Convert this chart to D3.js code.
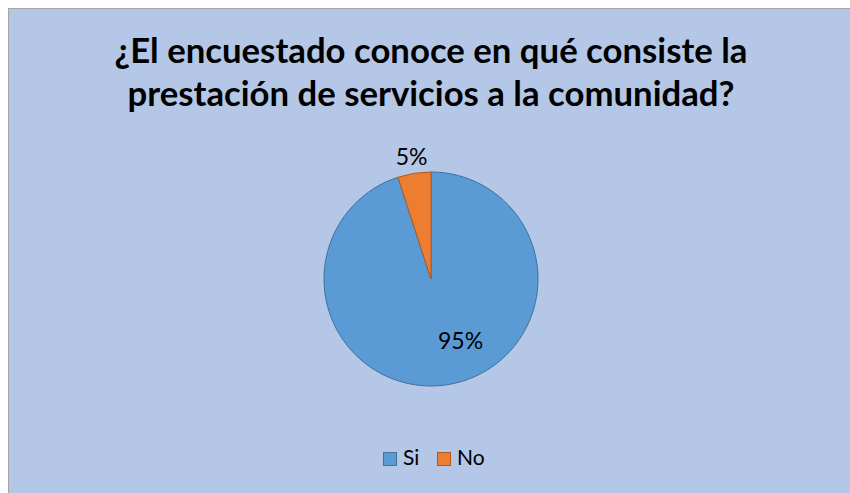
<!DOCTYPE html>
<html>
<head>
<meta charset="utf-8">
<script src="https://cdn.jsdelivr.net/npm/d3@7"></script>
<style>
  body { margin: 0; background: #ffffff; }
  text { font-family: Lato, "Open Sans", sans-serif; fill: #000; }
</style>
</head>
<body>
<div id="chart"></div>
<script>
// Data
var categories = ["Si", "No"];
var values = [95, 5];
var labels = ["95%", "5%"];
var titleLines = ["¿El encuestado conoce en qué consiste la", "prestación de servicios a la comunidad?"];

var svgWidth = 850;
var svgHeight = 493;

var svg = d3.select("#chart")
  .append("svg")
  .attr("width", svgWidth)
  .attr("height", svgHeight);

// chart area background + border
svg.append("rect")
  .attr("x", 8.5)
  .attr("y", 8.5)
  .attr("width", svgWidth)
  .attr("height", svgHeight)
  .attr("fill", "#b4c7e7")
  .attr("stroke", "#a6a6a6")
  .attr("stroke-width", 1);

// title
var titleGroup = svg.append("g");
var titleText = titleGroup.selectAll("text")
  .data(titleLines)
  .enter()
  .append("text")
  .attr("x", 431)
  .attr("y", (d, i) => 63 + i * 43)
  .attr("text-anchor", "middle")
  .attr("font-weight", "bold")
  .attr("font-size", 28)
  .text(d => d);

// scale font so the first line spans roughly the same width as the reference
var w0 = titleText.nodes()[0].getComputedTextLength();
titleText.attr("font-size", 28 * 633 / w0);

// pie
var cx = 431, cy = 279, radius = 107;
var colors = d3.scaleOrdinal().domain(categories).range(["#5b9bd5", "#ed7d31"]);
var strokes = d3.scaleOrdinal().domain(categories).range(["#41719c", "#ae5a21"]);

var pie = d3.pie().sort(null).value(d => d.value);
var arcs = pie(categories.map((c, i) => ({ cat: c, value: values[i], label: labels[i] })));

var arc = d3.arc().innerRadius(0).outerRadius(radius);
var outerLabelArc = d3.arc().innerRadius(radius + 17).outerRadius(radius + 17);
var innerLabelArc = d3.arc().innerRadius(radius * 0.63).outerRadius(radius * 0.63);

var pieGroup = svg.append("g")
  .attr("transform", `translate(${cx}, ${cy})`);

pieGroup.selectAll("path")
  .data(arcs)
  .enter()
  .append("path")
  .attr("d", arc)
  .attr("fill", d => colors(d.data.cat))
  .attr("stroke", d => strokes(d.data.cat))
  .attr("stroke-width", 1);

pieGroup.selectAll("text.lbl")
  .data(arcs)
  .enter()
  .append("text")
  .attr("class", "lbl")
  .attr("text-anchor", "middle")
  .attr("dy", "0.35em")
  .attr("font-size", 23)
  .attr("transform", d => {
    if (d.data.value > 50) {
      var p = innerLabelArc.centroid(d);
      return `translate(${p[0] + 19}, ${p[1] - 5})`;
    }
    var q = outerLabelArc.centroid(d);
    return `translate(${q[0]}, ${q[1]})`;
  })
  .text(d => d.data.label);

// legend
var legendX = [383, 437];
var legend = svg.append("g").selectAll("g")
  .data(categories)
  .enter()
  .append("g")
  .attr("transform", (d, i) => `translate(${legendX[i]}, 452)`);

legend.append("rect")
  .attr("x", 0.5)
  .attr("y", 0.5)
  .attr("width", 13)
  .attr("height", 13)
  .attr("fill", d => colors(d))
  .attr("stroke", d => strokes(d));

legend.append("text")
  .attr("x", 20)
  .attr("y", 13)
  .attr("font-size", 21)
  .text(d => d);
</script>
</body>
</html>
